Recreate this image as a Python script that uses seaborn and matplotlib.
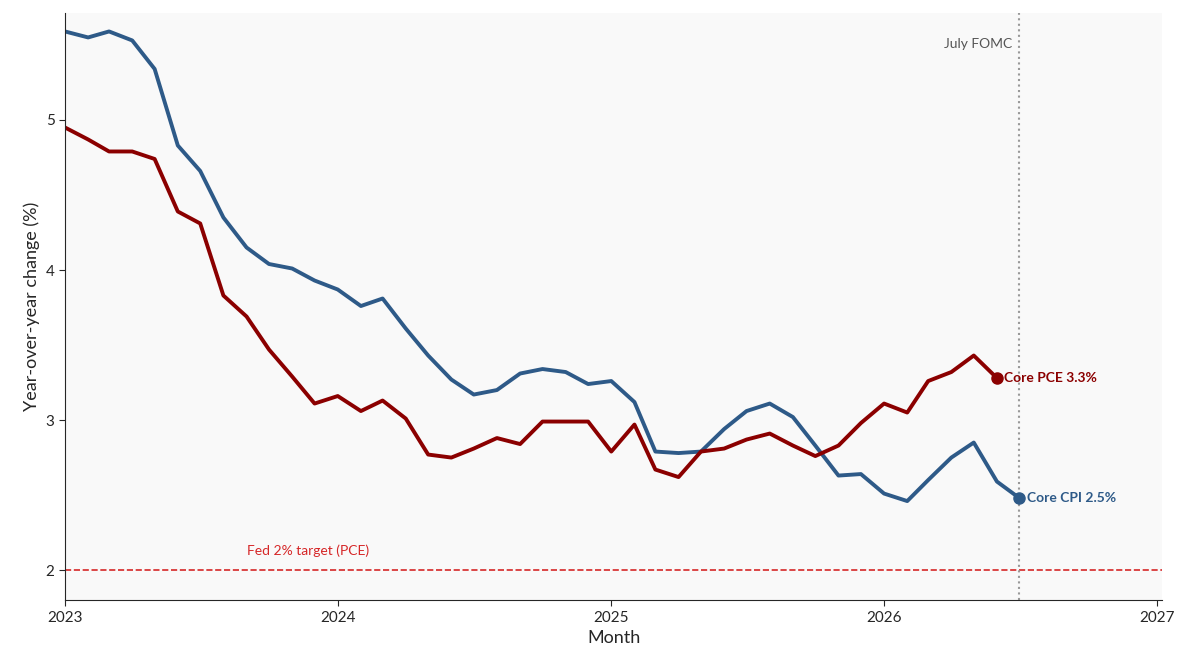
import matplotlib
matplotlib.use("Agg")
import matplotlib.pyplot as plt
import seaborn as sns
import pandas as pd
import numpy as np

cpi = [5.59,5.55,5.59,5.53,5.34,4.83,4.66,4.35,4.15,4.04,4.01,3.93,3.87,3.76,3.81,3.61,3.43,3.27,3.17,3.20,3.31,3.34,3.32,3.24,3.26,3.12,2.79,2.78,2.79,2.94,3.06,3.11,3.02,2.83,2.63,2.64,2.51,2.46,2.60,2.75,2.85,2.59,2.48]
pce = [4.95,4.87,4.79,4.79,4.74,4.39,4.31,3.83,3.69,3.47,3.29,3.11,3.16,3.06,3.13,3.01,2.77,2.75,2.81,2.88,2.84,2.99,2.99,2.99,2.79,2.97,2.67,2.62,2.79,2.81,2.87,2.91,2.83,2.76,2.83,2.98,3.11,3.05,3.26,3.32,3.43,3.28]
cpi_dates = pd.date_range("2023-01-01", periods=len(cpi), freq="MS")
pce_dates = pd.date_range("2023-01-01", periods=len(pce), freq="MS")
df = pd.concat([pd.DataFrame({"Month": cpi_dates, "val": cpi, "s": "Core CPI"}),
                pd.DataFrame({"Month": pce_dates, "val": pce, "s": "Core PCE"})])
colors = {"Core CPI": "#2e5a88", "Core PCE": "#8b0000"}

sns.set_style("white")
plt.rcParams["font.family"] = ["Lato", "DejaVu Sans"]
fig, ax = plt.subplots(figsize=(11.81, 6.72), dpi=100)
fig.subplots_adjust(left=0.055, right=0.984, top=0.98, bottom=0.107)
ax.set_facecolor("#f9f9f9")
sns.lineplot(data=df, x="Month", y="val", hue="s", palette=colors, linewidth=2.8, legend=False, ax=ax)

ax.axhline(2, color="#d62728", ls="--", lw=1.2)
ax.text(pd.Timestamp("2023-09-01"), 2.1, "Fed 2% target (PCE)", color="#d62728", fontsize=10)
fomc = pd.Timestamp("2026-07-01")
ax.axvline(fomc, color="#999999", ls=":", lw=1.5)
ax.text(fomc - pd.Timedelta(days=10), 5.48, "July FOMC", color="#555555", fontsize=10, ha="right")

for name, d, v in [("Core PCE", pce_dates[-1], pce[-1]), ("Core CPI", cpi_dates[-1], cpi[-1])]:
    ax.plot(d, v, "o", color=colors[name], ms=8)
    ax.text(d + pd.Timedelta(days=10), v, f"{name} {v:.1f}%", color=colors[name],
            fontsize=10, fontweight="bold", va="center")

ax.set_xlim(pd.Timestamp("2023-01-01"), pd.Timestamp("2027-01-08"))
ax.set_ylim(1.8, 5.71)
ax.set_yticks([2, 3, 4, 5])
ax.set_xticks(pd.to_datetime(["2023-01-01","2024-01-01","2025-01-01","2026-01-01","2027-01-01"]))
ax.set_xticklabels(["2023","2024","2025","2026","2027"])
ax.tick_params(labelsize=11, length=4, bottom=True, left=True)
ax.set_xlabel("Month", fontsize=13)
ax.set_ylabel("Year-over-year change (%)", fontsize=13)
sns.despine(ax=ax)
fig.savefig("out.png")
